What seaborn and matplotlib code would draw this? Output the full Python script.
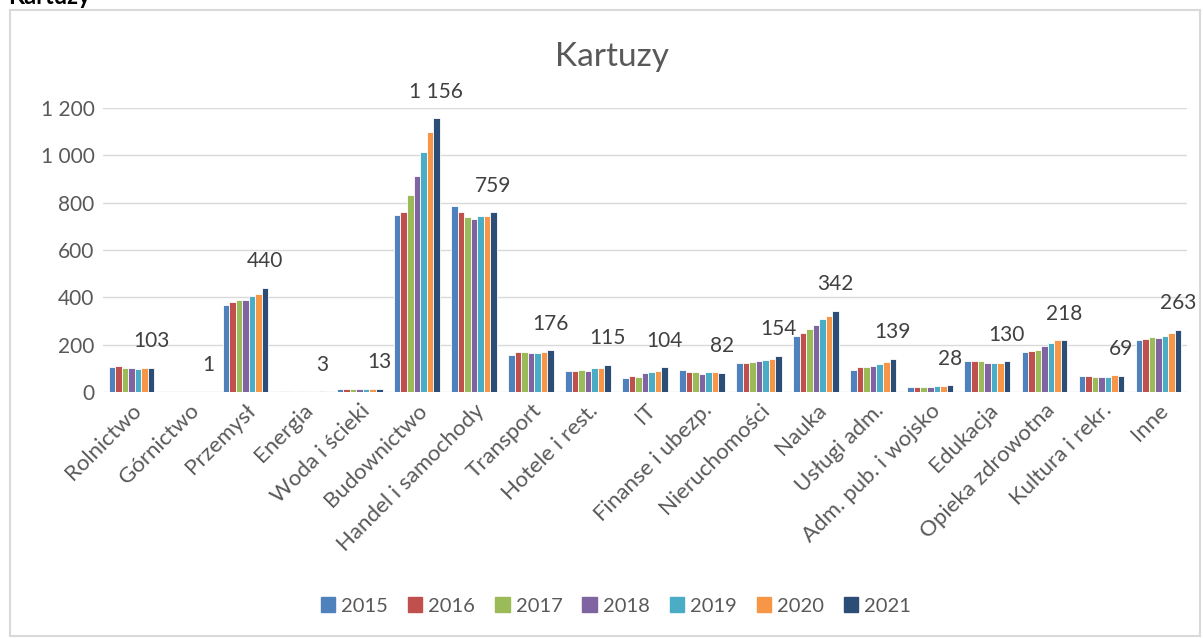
import pandas as pd
import numpy as np
import matplotlib
matplotlib.use("Agg")
import matplotlib.pyplot as plt
from matplotlib.patches import Rectangle
from matplotlib.ticker import FuncFormatter
import seaborn as sns

categories = ["Rolnictwo", "Górnictwo", "Przemysł", "Energia", "Woda i ścieki",
              "Budownictwo", "Handel i samochody", "Transport", "Hotele i rest.", "IT",
              "Finanse i ubezp.", "Nieruchomości", "Nauka", "Usługi adm.",
              "Adm. pub. i wojsko", "Edukacja", "Opieka zdrowotna", "Kultura i rekr.", "Inne"]
years = ["2015", "2016", "2017", "2018", "2019", "2020", "2021"]

v2015 = [105, 1, 366, 4, 11, 748, 784, 157, 89, 60, 92, 123, 236, 94, 22, 133, 167, 66, 221]
v2016 = [109, 1, 380, 4, 12, 760, 760, 171, 89, 68, 85, 122, 250, 105, 22, 132, 173, 66, 224]
v2017 = [100, 1, 390, 3, 12, 831, 741, 171, 92, 62, 84, 126, 265, 105, 22, 129, 178, 65, 231]
v2018 = [102, 1, 390, 3, 12, 913, 733, 165, 88, 80, 78, 133, 285, 108, 23, 123, 195, 65, 227]
v2019 = [99, 1, 407, 3, 13, 1015, 743, 164, 101, 84, 84, 135, 309, 119, 25, 121, 205, 65, 238]
v2020 = [103, 1, 415, 3, 13, 1098, 744, 171, 101, 89, 83, 141, 323, 127, 25, 124, 218, 70, 251]
v2021 = [103, 1, 440, 3, 13, 1156, 759, 176, 115, 104, 82, 154, 342, 139, 28, 130, 218, 69, 263]

colors = ["#4F81BD", "#C0504D", "#9BBB59", "#8064A2", "#4BACC6", "#F79646", "#2C4D75"]

series = [v2015, v2016, v2017, v2018, v2019, v2020, v2021]
df = pd.DataFrame({
    "Sekcja": categories * len(years),
    "Rok": np.repeat(years, len(categories)),
    "Liczba": np.concatenate(series),
})


def fmt_pl(x, pos=None):
    return f"{int(round(x)):,}".replace(",", " ")


sns.set_style("white")
plt.rcParams["font.family"] = ["Lato", "DejaVu Sans"]

fig = plt.figure(figsize=(12.03, 6.38), dpi=100)
ax = fig.add_axes([0.0856, 0.3856, 0.9011, 0.4451])

sns.barplot(data=df, x="Sekcja", y="Liczba", hue="Rok", palette=colors, saturation=1,
            width=0.8, edgecolor="white", linewidth=0.6, ax=ax, legend=False)

ax.set_ylim(0, 1200)
ax.set_xlim(-0.5, len(categories) - 0.5)
ax.set_yticks(range(0, 1201, 200))
ax.yaxis.set_major_formatter(FuncFormatter(fmt_pl))
ax.grid(axis="y", color="#D9D9D9", linewidth=1)
ax.set_axisbelow(True)
for s in ax.spines.values():
    s.set_visible(False)
ax.tick_params(axis="y", length=0, labelsize=15, colors="#595959", pad=6)
ax.tick_params(axis="x", length=0, labelsize=16, colors="#595959", pad=6)
plt.setp(ax.get_xticklabels(), rotation=45, ha="right", rotation_mode="anchor")
ax.set_xlabel("")
ax.set_ylabel("")

# labels on the last series
ax.bar_label(ax.containers[-1], labels=[fmt_pl(v) for v in v2021],
             padding=12, fontsize=15, color="#404040")

# chart title, centred on the whole chart
fig.text(612 / 1203, 1 - 57 / 638, "Kartuzy", fontsize=24, color="#595959",
         ha="center", va="center")

handles = [Rectangle((0, 0), 1, 1, color=c) for c in colors]
fig.legend(handles, years, loc="center", bbox_to_anchor=(616 / 1203, 1 - 606 / 638),
           ncol=7, frameon=False, fontsize=14.5, handlelength=0.7, handleheight=0.7,
           handletextpad=0.3, columnspacing=1.0, labelcolor="#595959")

# chart frame
fig.patches.append(Rectangle((10 / 1203, 2 / 638), 1190 / 1203, 626 / 638,
                             transform=fig.transFigure, fill=False,
                             edgecolor="#D9D9D9", linewidth=1.5))
fig.text(0.007, 1 - 4 / 638, "Kartuzy", fontsize=17, fontweight="bold",
         va="baseline", color="black")

fig.savefig("out.png", dpi=100)
